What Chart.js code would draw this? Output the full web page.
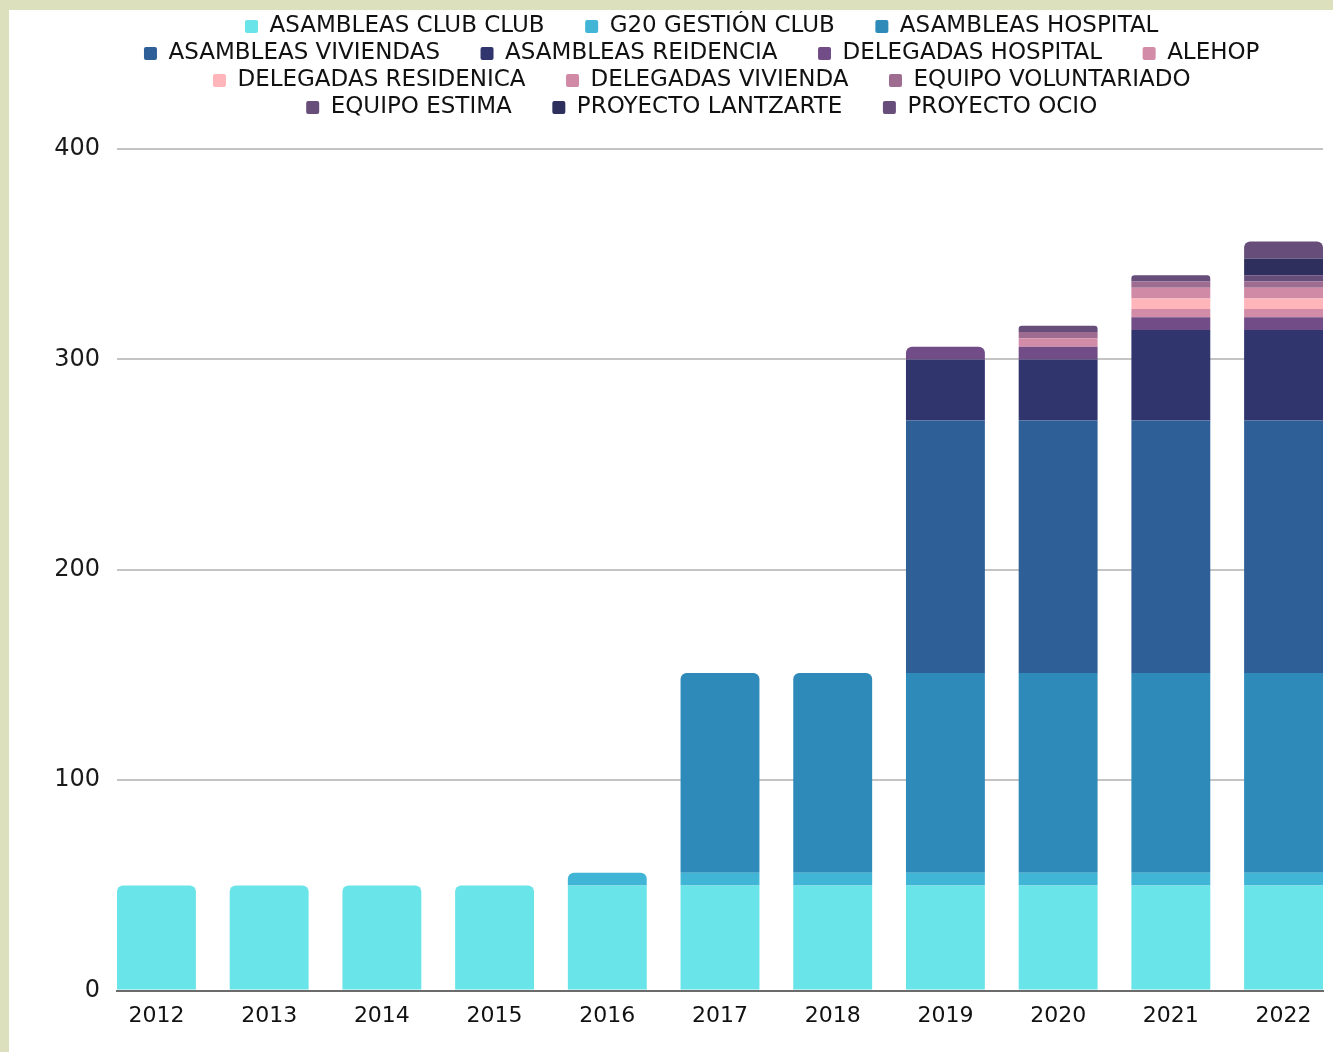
<!DOCTYPE html>
<html>
<head>
<meta charset="utf-8">
<script src="https://cdn.jsdelivr.net/npm/chart.js@4.4.0/dist/chart.umd.min.js"></script>
<style>
  html, body { margin: 0; padding: 0; background: #dde0bd; overflow: hidden; }
  .panel { position: absolute; left: 9px; top: 10px; right: 0; bottom: 0; background: #fff; }
  #myChart { position: absolute; left: 0; top: 0; }
</style>
</head>
<body>
<div class="panel"></div>
<canvas id="myChart" width="1333" height="1052"></canvas>
<script>
// years on the x axis
const years = ['2012', '2013', '2014', '2015', '2016', '2017', '2018', '2019', '2020', '2021', '2022'];
const yTicks = [0, 100, 200, 300, 400];

// one array per series, one value per year (null = nothing that year)
const asambleasClubClub = [50, 50, 50, 50, 50, 50, 50, 50, 50, 50, 50];
const g20GestionClub = [null, null, null, null, 6, 6, 6, 6, 6, 6, 6];
const asambleasHospital = [null, null, null, null, null, 95, 95, 95, 95, 95, 95];
const asambleasViviendas = [null, null, null, null, null, null, null, 120, 120, 120, 120];
const asambleasReidencia = [null, null, null, null, null, null, null, 29, 29, 43, 43];
const delegadasHospital = [null, null, null, null, null, null, null, 6, 6, 6, 6];
const alehop = [null, null, null, null, null, null, null, null, 4, 4, 4];
const delegadasResidenica = [null, null, null, null, null, null, null, null, null, 5, 5];
const delegadasVivienda = [null, null, null, null, null, null, null, null, null, 5, 5];
const equipoVoluntariado = [null, null, null, null, null, null, null, null, 3, 3, 3];
const equipoEstima = [null, null, null, null, null, null, null, null, 3, 3, 3];
const proyectoLantzarte = [null, null, null, null, null, null, null, null, null, null, 8];
const proyectoOcio = [null, null, null, null, null, null, null, null, null, null, 8];

const series = [
  ['ASAMBLEAS CLUB CLUB', asambleasClubClub, '#69e4e8'],
  ['G20 GESTIÓN CLUB', g20GestionClub, '#40b5d5'],
  ['ASAMBLEAS HOSPITAL', asambleasHospital, '#2d8ab9'],
  ['ASAMBLEAS VIVIENDAS', asambleasViviendas, '#2e5f97'],
  ['ASAMBLEAS REIDENCIA', asambleasReidencia, '#30356d'],
  ['DELEGADAS HOSPITAL', delegadasHospital, '#714c86'],
  ['ALEHOP', alehop, '#d38ca7'],
  ['DELEGADAS RESIDENICA', delegadasResidenica, '#ffb5b9'],
  ['DELEGADAS VIVIENDA', delegadasVivienda, '#d08aa5'],
  ['EQUIPO VOLUNTARIADO', equipoVoluntariado, '#9e6b91'],
  ['EQUIPO ESTIMA', equipoEstima, '#674d79'],
  ['PROYECTO LANTZARTE', proyectoLantzarte, '#2e2f5c'],
  ['PROYECTO OCIO', proyectoOcio, '#674d79'],
];

const fontFamily = "'DejaVu Sans', sans-serif";

// push the plot down a bit below the legend
const legendGap = {
  id: 'legendGap',
  beforeInit(chart) {
    const fit = chart.legend.fit;
    chart.legend.fit = function () {
      fit.bind(chart.legend)();
      this.height += 20;
    };
  },
};

const myChart = new Chart('myChart', {
  type: 'bar',
  data: {
    labels: years,
    datasets: series.map(([label, data, color]) => ({
      label: label,
      data: data,
      backgroundColor: color,
      borderWidth: 0,
      borderRadius: 6,
      borderSkipped: 'start',
      barPercentage: 0.7,
      categoryPercentage: 1,
    })),
  },
  options: {
    responsive: false,
    animation: false,
    devicePixelRatio: 1,
    layout: { padding: { left: 47, right: 10, top: 11, bottom: 11 } },
    plugins: {
      tooltip: { enabled: false },
      legend: {
        position: 'top',
        fullSize: false,
        labels: {
          boxWidth: 13,
          boxHeight: 13,
          padding: 4,
          color: '#111',
          useBorderRadius: true,
          borderRadius: 2,
          font: { family: fontFamily, size: 23 },
          generateLabels: (chart) =>
            Chart.defaults.plugins.legend.labels.generateLabels(chart).map((item) => {
              item.text = item.text + '     ';
              item.lineWidth = 0;
              return item;
            }),
        },
      },
    },
    scales: {
      x: {
        type: 'linear',
        stacked: true,
        offset: false,
        min: 2011.65,
        max: 2022.35,
        grid: { display: false, drawTicks: false, offset: false },
        border: { display: true, color: '#6b6b6b', width: 2 },
        ticks: {
          stepSize: 1,
          includeBounds: false,
          padding: 12,
          color: '#111',
          font: { family: fontFamily, size: 22 },
          callback: (v) => (years.includes(String(v)) ? String(v) : ''),
        },
      },
      y: {
        stacked: true,
        min: yTicks[0],
        max: yTicks[yTicks.length - 1],
        border: { display: false },
        grid: {
          drawTicks: false,
          lineWidth: 2,
          color: (ctx) => (ctx.tick && ctx.tick.value === 0 ? '#6b6b6b' : '#c4c4c4'),
        },
        ticks: {
          stepSize: 100,
          padding: 17,
          color: '#1a1a1a',
          font: { family: fontFamily, size: 24 },
        },
        afterFit: (scale) => {
          scale.width = 70;
        },
      },
    },
  },
  plugins: [legendGap],
});
</script>
</body>
</html>
